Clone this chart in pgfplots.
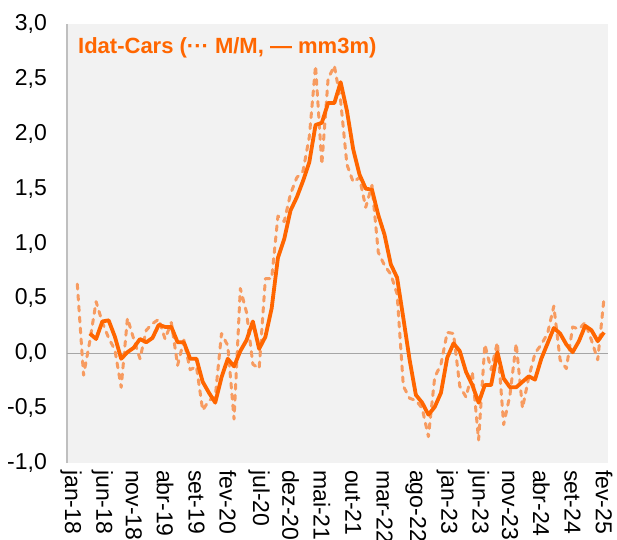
\documentclass[border=0pt]{standalone}
\usepackage{fontspec}
\setmainfont{Liberation Sans}
\usepackage{pgfplots}
\pgfplotsset{compat=1.18}
\usepackage{pgfplotstable}
\definecolor{bgc}{RGB}{242,242,242}
\definecolor{solidc}{RGB}{255,102,0}
\definecolor{dashc}{RGB}{247,155,96}
\definecolor{axc}{RGB}{191,191,191}
\definecolor{zeroc}{RGB}{166,166,166}

% M/M (dashed), x = month position
\pgfplotstableread{
u v
1 0.63
2 -0.20
3 0.11
4 0.47
5 0.28
6 0.14
7 0.03
8 -0.31
9 0.32
10 0.13
11 -0.05
12 0.21
13 0.27
14 0.31
15 0.13
16 0.28
17 -0.11
18 0.12
19 -0.15
20 -0.12
21 -0.52
22 -0.43
23 -0.40
24 0.18
25 0.07
26 -0.60
27 0.59
28 0.37
29 -0.10
30 -0.14
31 0.68
32 0.68
33 1.25
34 1.20
35 1.45
36 1.60
37 1.66
38 1.97
39 2.62
40 1.72
41 2.50
42 2.62
43 2.30
44 1.72
45 1.56
46 1.60
47 1.33
48 1.53
49 0.92
50 0.80
51 0.72
52 0.54
53 -0.30
54 -0.41
55 -0.43
56 -0.50
57 -0.76
58 -0.22
59 -0.10
60 0.19
61 0.18
62 -0.30
63 -0.40
64 -0.17
65 -0.79
66 0.08
67 -0.15
68 0.10
69 -0.65
70 -0.38
71 0.09
72 -0.50
73 -0.22
74 0.00
75 0.08
76 0.18
77 0.43
78 -0.06
79 -0.14
80 0.24
81 0.22
82 0.28
83 0.12
84 -0.06
85 0.50
}\mmtable

% mm3m (solid)
\pgfplotstableread{
u v
3 0.18
4 0.13
5 0.29
6 0.30
7 0.15
8 -0.05
9 0.01
10 0.05
11 0.13
12 0.10
13 0.14
14 0.26
15 0.24
16 0.24
17 0.10
18 0.10
19 -0.05
20 -0.05
21 -0.26
22 -0.36
23 -0.45
24 -0.22
25 -0.05
26 -0.12
27 0.02
28 0.12
29 0.29
30 0.04
31 0.15
32 0.41
33 0.87
34 1.04
35 1.30
36 1.42
37 1.57
38 1.74
39 2.08
40 2.10
41 2.28
42 2.28
43 2.47
44 2.21
45 1.86
46 1.63
47 1.50
48 1.49
49 1.26
50 1.08
51 0.81
52 0.69
53 0.32
54 -0.06
55 -0.38
56 -0.45
57 -0.56
58 -0.49
59 -0.36
60 -0.04
61 0.09
62 0.02
63 -0.17
64 -0.29
65 -0.45
66 -0.29
67 -0.29
68 0.01
69 -0.23
70 -0.31
71 -0.31
72 -0.26
73 -0.21
74 -0.24
75 -0.05
76 0.09
77 0.23
78 0.18
79 0.08
80 0.01
81 0.11
82 0.25
83 0.21
84 0.11
85 0.19
}\mmthreetable

\begin{document}
\begin{tikzpicture}
\path[use as bounding box] (-67pt,-76pt) rectangle (550pt,463pt);
\begin{axis}[
  at={(0pt,0pt)}, anchor=south west,
  scale only axis, width=541pt, height=439pt,
  xmin=-0.64, xmax=85.64, ymin=-1, ymax=3,
  axis background/.style={fill=bgc},
  axis lines*=left,
  x axis line style={draw=none},
  y axis line style={draw=axc, line width=1.2pt},
  major tick length=0pt,
  xtick={0,5,...,85},
  xticklabels={jan-18,jun-18,nov-18,abr-19,set-19,fev-20,jul-20,dez-20,mai-21,out-21,mar-22,ago-22,jan-23,jun-23,nov-23,abr-24,set-24,fev-25},
  ytick={-1,-0.5,0,0.5,1,1.5,2,2.5,3},
  yticklabels={{-1,0},{-0,5},{0,0},{0,5},{1,0},{1,5},{2,0},{2,5},{3,0}},
  tick label style={font=\fontsize{23}{26}\selectfont},
  yticklabel style={anchor=east, inner sep=0pt, xshift=-20pt},
  xticklabel style={yshift=-7pt, rotate=-90, anchor=west, inner sep=0pt},
  extra y ticks={0}, extra y tick labels={},
  extra y tick style={grid=major, major grid style={draw=zeroc, line width=0.9pt}},
  clip=true,
]
\addplot[dashc, line width=3pt, line cap=round, line join=round, dash pattern=on 5pt off 6pt] table[x=u, y=v] {\mmtable};
\addplot[solidc, line width=3.8pt, line join=round] table[x=u, y=v] {\mmthreetable};
\node[anchor=base west, text=solidc, font=\bfseries\fontsize{22}{26}\selectfont, inner sep=0pt] at (rel axis cs:0.0203,0.9317) {Idat-Cars (··· M/M, — mm3m)};
\end{axis}
\end{tikzpicture}
\end{document}
